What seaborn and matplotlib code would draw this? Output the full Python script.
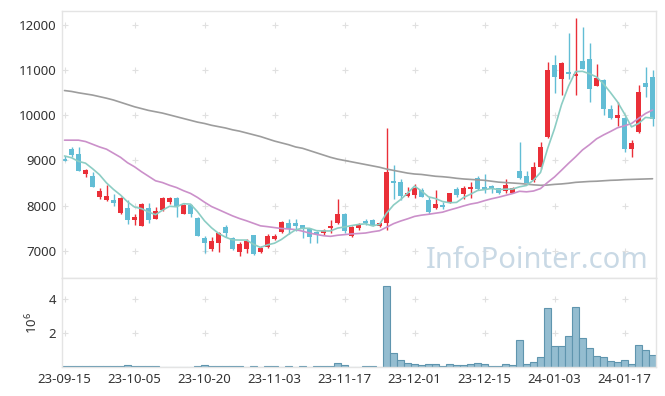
import numpy as np
import matplotlib
matplotlib.use("Agg")
import matplotlib.pyplot as plt
import seaborn as sns

# daily candles (KRW)
opens = [9020, 9250, 9140, 8700, 8650, 8200, 8120, 8120, 7830, 7940,
         7670, 7550, 7940, 7710, 7900, 8070, 8170, 7820, 8020, 7720,
         7280, 7040, 7180, 7520, 7280, 6980, 7030, 7340, 6980, 7080,
         7250, 7410, 7620, 7610, 7560, 7470, 7410, 7400, 7500, 7610,
         7810, 7330, 7500, 7640, 7690, 7540, 7610, 8540, 8520, 8220,
         8230, 8340, 8120, 7940, 8020, 8080, 8360, 8260, 8370, 8620,
         8400, 8440, 8380, 8330, 8290, 8770, 8650, 8570, 8850, 9510,
         11110, 10800, 10940, 10880, 11200, 11260, 10660, 10780, 10140, 9950,
         9950, 9260, 9620, 10720, 10840]
highs = [9100, 9300, 9300, 8820, 8750, 8400, 8450, 8250, 8180, 8120,
         7810, 8050, 8050, 7960, 8190, 8190, 8180, 8030, 8040, 7740,
         7320, 7300, 7420, 7560, 7300, 7200, 7270, 7350, 7100, 7360,
         7380, 7650, 7700, 7700, 7580, 7500, 7430, 7490, 7680, 8140,
         7830, 7540, 7620, 7710, 7710, 7620, 9730, 8910, 8600, 8420,
         8480, 8380, 8190, 8350, 8080, 8280, 8420, 8430, 8530, 8650,
         8700, 8460, 8390, 8580, 8420, 9400, 8770, 8970, 9420, 11190,
         11340, 11180, 11820, 12150, 11950, 11610, 11140, 10800, 10230, 10300,
         9960, 9450, 10670, 11080, 11000]
lows = [8980, 9080, 8760, 8640, 8410, 8140, 8110, 7990, 7820, 7590,
        7560, 7540, 7620, 7700, 7890, 8030, 7740, 7820, 7740, 7330,
        6940, 7000, 6980, 7310, 7020, 6880, 6960, 6910, 6960, 7070,
        7240, 7400, 7380, 7430, 7280, 7180, 7180, 7350, 7400, 7590,
        7390, 7310, 7460, 7570, 7540, 7530, 7460, 8150, 8120, 8200,
        8160, 8190, 7820, 7920, 7930, 8060, 8200, 8140, 8160, 8340,
        8270, 8270, 8260, 8280, 8270, 8600, 8490, 8530, 8820, 9500,
        10500, 10450, 10800, 10450, 11020, 10300, 10650, 10010, 9930, 9760,
        9190, 9080, 9610, 10410, 9760]
closes = [8990, 9120, 8770, 8790, 8420, 8320, 8210, 8050, 8170, 7670,
          7740, 8030, 7680, 7870, 8170, 8170, 7980, 8020, 7820, 7330,
          7160, 7210, 7400, 7400, 7030, 7140, 7210, 6930, 7050, 7320,
          7320, 7630, 7490, 7550, 7500, 7310, 7370, 7460, 7550, 7810,
          7440, 7520, 7590, 7620, 7580, 7610, 8750, 8500, 8220, 8290,
          8400, 8200, 7860, 8030, 7960, 8270, 8230, 8400, 8400, 8370,
          8370, 8360, 8270, 8450, 8380, 8620, 8510, 8860, 9300, 11000,
          10860, 11170, 10910, 10910, 11030, 10590, 10820, 10130, 9950, 10000,
          9260, 9380, 10510, 10620, 9930]

# moving averages as drawn
ma5 = [9100, 9060, 8980, 8940, 8818, 8684, 8502, 8358, 8234, 8084,
       7968, 7932, 7858, 7798, 7898, 7984, 7974, 8042, 8032, 7864,
       7662, 7508, 7384, 7300, 7240, 7236, 7236, 7142, 7072, 7130,
       7166, 7250, 7362, 7462, 7498, 7496, 7444, 7438, 7438, 7500,
       7526, 7556, 7582, 7596, 7550, 7584, 7830, 8012, 8132, 8274,
       8432, 8322, 8194, 8156, 8090, 8064, 8070, 8178, 8252, 8334,
       8354, 8380, 8354, 8364, 8366, 8416, 8446, 8564, 8734, 9258,
       9706, 10238, 10648, 10970, 10976, 10922, 10852, 10696, 10504, 10298,
       10032, 9744, 9820, 9954, 9940]
ma20 = [9450, 9450, 9450, 9420, 9360, 9300, 9250, 9160, 9070, 8950,
        8860, 8750, 8650, 8550, 8510, 8450, 8400, 8330, 8270, 8180,
        8075, 7979, 7911, 7841, 7772, 7713, 7663, 7607, 7551, 7533,
        7512, 7492, 7483, 7467, 7433, 7390, 7360, 7332, 7318, 7342,
        7356, 7372, 7381, 7392, 7420, 7443, 7520, 7599, 7657, 7706,
        7760, 7788, 7807, 7831, 7854, 7902, 7945, 7992, 8034, 8062,
        8109, 8151, 8185, 8226, 8266, 8317, 8305, 8323, 8377, 8512,
        8635, 8784, 8936, 9080, 9234, 9350, 9479, 9566, 9643, 9725,
        9769, 9820, 9932, 10041, 10118]
ma120 = [10550, 10530, 10500, 10475, 10450, 10415, 10380, 10340, 10290, 10240,
         10190, 10150, 10110, 10080, 10050, 10010, 9970, 9930, 9890, 9850,
         9820, 9780, 9750, 9720, 9680, 9650, 9610, 9570, 9530, 9480,
         9430, 9390, 9350, 9300, 9270, 9220, 9170, 9120, 9070, 9030,
         9000, 8970, 8940, 8910, 8880, 8850, 8810, 8780, 8750, 8720,
         8700, 8690, 8670, 8650, 8640, 8625, 8605, 8590, 8580, 8570,
         8560, 8540, 8520, 8510, 8500, 8490, 8475, 8460, 8450, 8455,
         8470, 8480, 8495, 8515, 8525, 8535, 8540, 8550, 8560, 8565,
         8575, 8580, 8585, 8590, 8595]

# traded shares
volume = [40000, 40000, 40000, 40000, 40000, 40000, 40000, 40000, 50000, 120000,
          40000, 40000, 40000, 40000, 30000, 5000, 30000, 5000, 5000, 40000,
          120000, 40000, 40000, 40000, 40000, 40000, 5000, 40000, 5000, 40000,
          40000, 5000, 40000, 5000, 40000, 5000, 40000, 40000, 60000, 235000,
          120000, 5000, 5000, 50000, 50000, 5000, 4780000, 820000, 430000, 235000,
          180000, 120000, 180000, 180000, 60000, 180000, 120000, 120000, 180000, 235000,
          180000, 60000, 60000, 180000, 120000, 1590000, 180000, 290000, 590000, 3470000,
          1240000, 1240000, 1820000, 3530000, 1710000, 1120000, 650000, 590000, 350000, 290000,
          410000, 180000, 1290000, 1000000, 710000]

tick_labels = ["23-09-15", "23-10-05", "23-10-20", "23-11-03", "23-11-17",
               "23-12-01", "23-12-15", "24-01-03", "24-01-17"]

sns.set_theme(style="white")
plt.rcParams["font.family"] = ["Noto Sans", "DejaVu Sans"]
plt.rcParams["mathtext.fontset"] = "custom"
plt.rcParams["mathtext.rm"] = "Noto Sans"

UP, DOWN = "#ea2f38", "#62bdd5"
SPINE = "#e4e4e4"
TXT = "#333333"

df_x = np.arange(len(closes))
o, h, l, c = map(np.array, (opens, highs, lows, closes))
up = c >= o
colors = np.where(up, UP, DOWN)

fig = plt.figure(figsize=(6.65, 3.96), dpi=100)
ax = fig.add_axes([0.0928, 0.298, 0.8937, 0.675])
axv = fig.add_axes([0.0928, 0.0732, 0.8937, 0.2247], sharex=ax)

# candles
ax.vlines(df_x, l, h, colors=colors, lw=1.0, zorder=2)
body = np.maximum(np.abs(c - o), 40)
ax.bar(df_x, body, bottom=np.minimum(o, c), width=0.62, color=colors,
       linewidth=0, zorder=2)

# moving averages
sns.lineplot(x=df_x, y=ma120, ax=ax, color="#9d9d9d", lw=1.2, zorder=3)
sns.lineplot(x=df_x, y=ma20, ax=ax, color="#cb90ca", lw=1.2, zorder=3)
sns.lineplot(x=df_x, y=ma5, ax=ax, color="#8ccdc4", lw=1.2, zorder=3)

ax.text(0.987, 0.037, "InfoPointer.com", transform=ax.transAxes,
        ha="right", va="baseline", fontsize=21, color="#c9d9e5", zorder=1)

# volume
vol = np.array(volume) / 1e6
axv.bar(df_x, vol, width=1.0, color="#94bdd0", edgecolor="#5f95ae",
        linewidth=0.8, zorder=2)

ax.set_xlim(-0.4, 84.5)
ax.set_ylim(6395, 12320)
axv.set_ylim(0, 5.25)

xt = np.arange(0, 81, 10)
ax.set_yticks(range(7000, 12001, 1000))
axv.set_yticks([2, 4])
axv.set_xticks(xt)
axv.set_xticklabels(tick_labels)
plt.setp(ax.get_xticklabels(), visible=False)

# plus-shaped grid marks
for a, yt in ((ax, range(7000, 12001, 1000)), (axv, [2, 4])):
    gx, gy = np.meshgrid(xt, list(yt))
    a.scatter(gx.ravel(), gy.ravel(), marker="+", s=16, color="#e0e0e0",
              linewidths=0.8, zorder=0)

for a in (ax, axv):
    for s in a.spines.values():
        s.set_color(SPINE)
        s.set_linewidth(1.0)
    a.tick_params(length=0, labelsize=9.5, colors=TXT, pad=4)
    a.set_xlabel("")
    a.set_ylabel("")

axv.set_ylabel(r"$\mathregular{10^6}$", fontsize=9.5, color=TXT, labelpad=6)

fig.savefig("out.png", dpi=100, facecolor="white")
